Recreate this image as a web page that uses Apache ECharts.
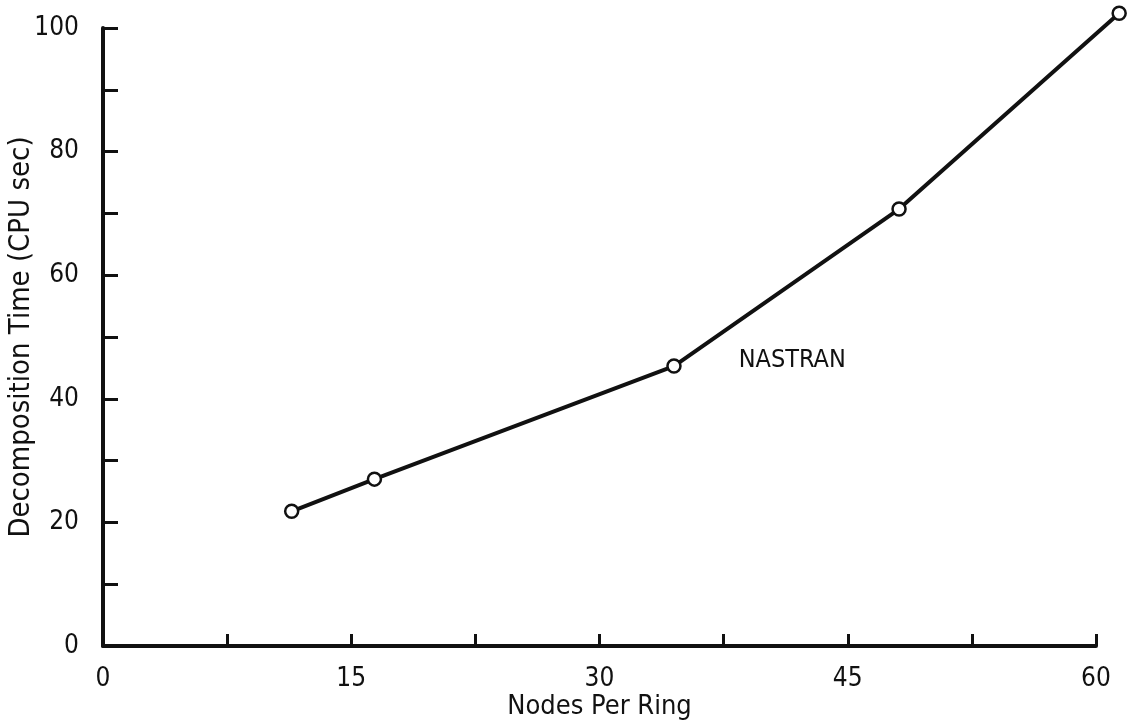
<!DOCTYPE html>
<html>
<head>
<meta charset="utf-8">
<script src="https://cdn.jsdelivr.net/npm/echarts@6/dist/echarts.min.js"></script>
<style>
  html, body { margin: 0; padding: 0; background: #fff; }
  #chart { width: 1129px; height: 725px; }
</style>
</head>
<body>
<div id="chart"></div>
<script>
// values
const nodesPerRing = [11.4, 16.4, 34.5, 48.1, 61.4];
const cpuSeconds = [21.8, 27.0, 45.3, 70.7, 102.4];
const seriesName = 'NASTRAN';
const labelledPoint = 2; // the name sits to the right of this point

const xMax = 60, yMax = 100;

const font = '"Liberation Sans Narrow", "DejaVu Sans Condensed", "Roboto Condensed", sans-serif';
const ink = '#111';

const W = 1129, H = 725;
const box = { left: 103, right: 33, top: 28, bottom: 79 };
// the last point runs past the axis ends, so the line lives on a second,
// hidden grid that shares the same scale but reaches the chart edges
const plotW = W - box.left - box.right, plotH = H - box.top - box.bottom;
const xMaxWide = xMax * (W - box.left) / plotW;
const yMaxWide = yMax * (H - box.bottom) / plotH;

const chart = echarts.init(document.getElementById('chart'));

const points = nodesPerRing.map((x, i) => {
  const item = { value: [x, cpuSeconds[i]] };
  if (i === labelledPoint) {
    item.label = {
      show: true,
      formatter: seriesName,
      position: 'right',
      distance: 57,
      offset: [0, -6],
      color: ink,
      fontFamily: font,
      fontSize: 25
    };
  }
  return item;
});

chart.setOption({
  backgroundColor: '#fff',
  animation: false,
  grid: [
    Object.assign({ outerBoundsMode: 'none', containLabel: false }, box),
    { left: box.left, right: 0, top: 0, bottom: box.bottom, outerBoundsMode: 'none', containLabel: false }
  ],
  xAxis: [{
    gridIndex: 0,
    type: 'value',
    min: 0,
    max: xMax,
    interval: 7.5,
    name: 'Nodes Per Ring',
    nameLocation: 'middle',
    nameGap: 47,
    nameMoveOverlap: false,
    nameTextStyle: { color: ink, fontFamily: font, fontSize: 27 },
    axisLine: { show: true, lineStyle: { color: ink, width: 4 } },
    axisTick: { show: true, inside: true, length: 12, lineStyle: { color: ink, width: 3 } },
    axisLabel: {
      color: ink, fontFamily: font, fontSize: 26, margin: 20,
      formatter: v => (v % 15 === 0 ? String(v) : '')
    },
    splitLine: { show: false }
  }, {
    gridIndex: 1, type: 'value', min: 0, max: xMaxWide, show: false, splitLine: { show: false }
  }],
  yAxis: [{
    gridIndex: 0,
    type: 'value',
    min: 0,
    max: yMax,
    interval: 10,
    name: 'Decomposition Time (CPU sec)',
    nameLocation: 'middle',
    nameGap: 67,
    nameMoveOverlap: false,
    nameTextStyle: { color: ink, fontFamily: font, fontSize: 29 },
    axisLine: { show: true, lineStyle: { color: ink, width: 4 } },
    axisTick: { show: true, inside: true, length: 15, lineStyle: { color: ink, width: 3 } },
    axisLabel: {
      color: ink, fontFamily: font, fontSize: 26, margin: 24,
      formatter: v => (v % 20 === 0 ? String(v) : '')
    },
    splitLine: { show: false }
  }, {
    gridIndex: 1, type: 'value', min: 0, max: yMaxWide, show: false, splitLine: { show: false }
  }],
  series: [{
    name: seriesName,
    type: 'line',
    xAxisIndex: 1,
    yAxisIndex: 1,
    clip: false,
    data: points,
    symbol: 'circle',
    symbolSize: 13,
    itemStyle: { color: '#fff', borderColor: ink, borderWidth: 2.5 },
    lineStyle: { color: ink, width: 4 }
  }]
});
</script>
</body>
</html>
